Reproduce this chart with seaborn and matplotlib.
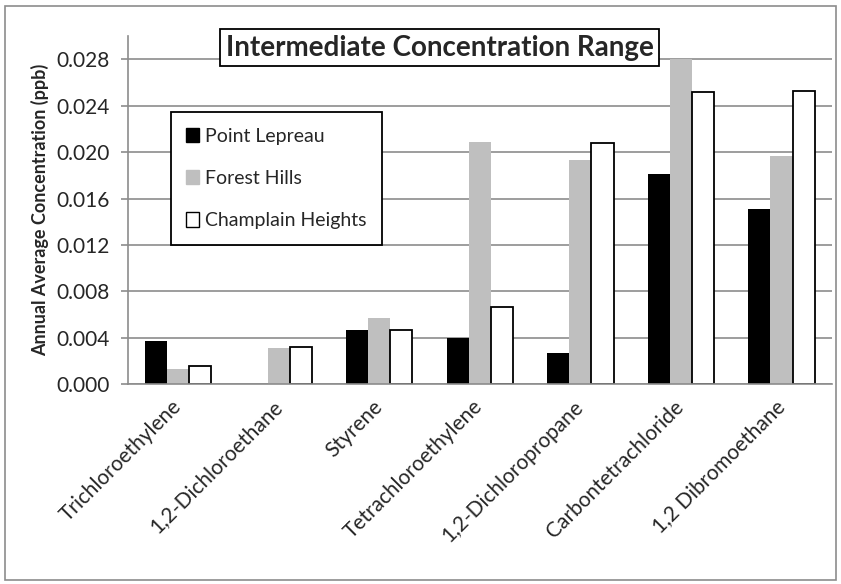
import numpy as np
import pandas as pd
import matplotlib
matplotlib.use("Agg")
import matplotlib.pyplot as plt
import matplotlib.patches as mpatches
import seaborn as sns

# ==========================
# 数据
# ==========================
compounds = ["Trichloroethylene", "1,2-Dichloroethane", "Styrene", "Tetrachloroethylene",
             "1,2-Dichloropropane", "Carbontetrachloride", "1,2 Dibromoethane"]
sites = ["Point Lepreau", "Forest Hills", "Champlain Heights"]
point_lepreau = [0.0037, 0.0, 0.0047, 0.0040, 0.0027, 0.0181, 0.0151]
forest_hills = [0.0013, 0.0031, 0.0057, 0.0209, 0.0193, 0.0280, 0.0197]
champlain_heights = [0.0016, 0.0032, 0.0047, 0.0067, 0.0208, 0.0252, 0.0253]
y_ticks = [0.000, 0.004, 0.008, 0.012, 0.016, 0.020, 0.024, 0.028]

colors = {"Point Lepreau": "#000000", "Forest Hills": "#BFBFBF", "Champlain Heights": "#FFFFFF"}

df = pd.DataFrame({
    "compound": compounds * 3,
    "site": np.repeat(sites, len(compounds)),
    "value": point_lepreau + forest_hills + champlain_heights,
})

sns.set_style("white")
plt.rcParams["font.family"] = ["Lato", "DejaVu Sans"]

fig = plt.figure(figsize=(8.41, 5.84), dpi=100)
ax = fig.add_axes([0.152, 0.342, 0.837, 0.596])

sns.barplot(data=df, x="compound", y="value", hue="site", order=compounds,
            hue_order=sites, palette=colors, width=0.66, gap=0, saturation=1,
            errorbar=None, legend=False, ax=ax)

# 白色柱加黑边
for site, cont in zip(sites, ax.containers):
    for p in cont.patches:
        if site == "Champlain Heights" and p.get_height() > 0:
            p.set_edgecolor("black")
            p.set_linewidth(1.3)
        else:
            p.set_linewidth(0)

ax.set_ylim(0, 0.030)
ax.set_xlim(-0.5, len(compounds) - 0.5)
ax.set_yticks(y_ticks)
ax.set_yticklabels([f"{v:.3f}" for v in y_ticks], fontsize=15)
ax.yaxis.grid(True, color="#8C8C8C", linewidth=1.2)
ax.set_axisbelow(True)

ax.set_xticks(range(len(compounds)))
ax.set_xticklabels(compounds, rotation=45, ha="right", va="center",
                   rotation_mode="anchor", fontsize=15)
ax.set_xticks(np.arange(-0.5, len(compounds), 1.0), minor=True)
ax.tick_params(axis="x", which="major", length=0, pad=14)
ax.tick_params(axis="x", which="minor", length=6, color="#8C8C8C", width=1.2)
ax.tick_params(axis="y", which="major", length=5, color="#8C8C8C", width=1.2, left=True, pad=8)

for side in ["top", "right"]:
    ax.spines[side].set_visible(False)
for side in ["left", "bottom"]:
    ax.spines[side].set_color("#8C8C8C")
    ax.spines[side].set_linewidth(1.2)

ax.set_xlabel("")
ax.set_ylabel("Annual Average Concentration (ppb)", fontsize=13, fontweight="bold", labelpad=5)

# 标题框
fig.text(0.523, 0.918, "Intermediate Concentration Range",
         ha="center", va="center", fontsize=20, fontweight="bold",
         bbox=dict(boxstyle="square,pad=0.2", facecolor="white", edgecolor="black", linewidth=1.3))

# 图例
handles = [mpatches.Patch(facecolor=colors[s], edgecolor="black" if s == "Champlain Heights" else colors[s],
                          linewidth=1.0, label=s) for s in sites]
leg = ax.legend(handles=handles, loc="upper left", bbox_to_anchor=(0.203, 0.808),
                bbox_transform=fig.transFigure, fontsize=14, handlelength=0.65,
                handleheight=0.75, handletextpad=0.3, labelspacing=1.3,
                borderpad=0.8, borderaxespad=0, fancybox=False, framealpha=1, edgecolor="black")
leg.get_frame().set_linewidth(1.3)

# 外框
fig.patches.append(mpatches.Rectangle((0.006, 0.006), 0.988, 0.984, transform=fig.transFigure,
                                      fill=False, edgecolor="#8C8C8C", linewidth=1.2))

fig.savefig("out.png", dpi=100)
